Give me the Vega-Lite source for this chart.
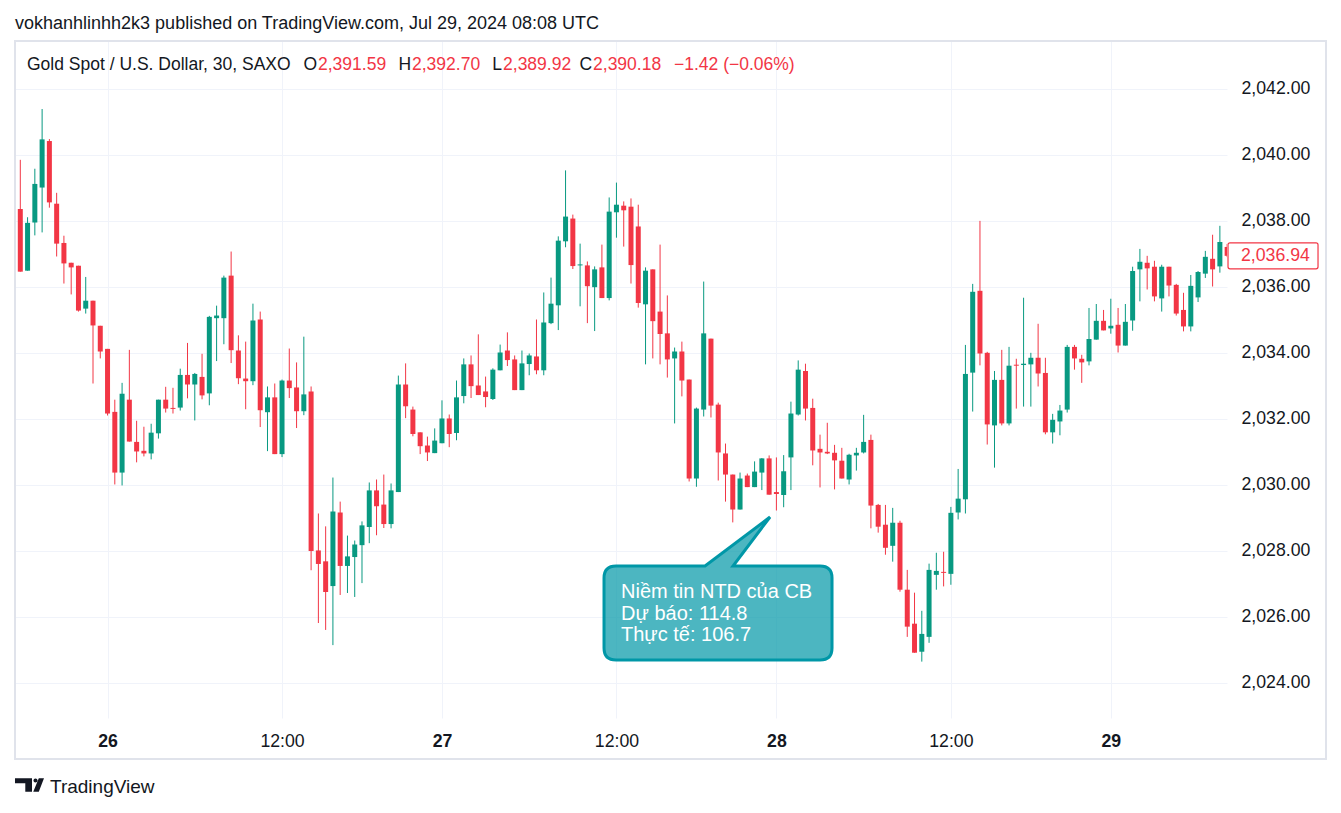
{
"$schema": "https://vega.github.io/schema/vega-lite/v6.json",
"width": 1212, "height": 677,
"autosize": "none",
"padding": {"left": 15, "top": 41, "right": 114, "bottom": 95},
"background": "#ffffff",
"title": {"text": "vokhanhlinhh2k3 published on TradingView.com, Jul 29, 2024 08:08 UTC", "anchor": "start", "frame": "group", "fontSize": 18, "fontWeight": "normal", "font": "Liberation Sans", "color": "#131722", "offset": 7},
"config": {"view": {"stroke": null}, "font": "Liberation Sans"},
"datasets": {
"candles": [
{"i":0,"o":2033.29,"h":2038.39,"l":2033.29,"c":2038.39},
{"i":1,"o":2038.36,"h":2039.85,"l":2036.46,"c":2036.46},
{"i":2,"o":2036.49,"h":2038.11,"l":2036.49,"c":2037.94},
{"i":3,"o":2037.95,"h":2039.58,"l":2037.56,"c":2039.12},
{"i":4,"o":2039.01,"h":2041.39,"l":2037.65,"c":2040.47},
{"i":5,"o":2040.42,"h":2040.48,"l":2038.40,"c":2038.56},
{"i":6,"o":2038.52,"h":2038.85,"l":2036.92,"c":2037.31},
{"i":7,"o":2037.33,"h":2037.55,"l":2036.10,"c":2036.71},
{"i":8,"o":2036.73,"h":2036.73,"l":2035.77,"c":2036.59},
{"i":9,"o":2036.64,"h":2036.64,"l":2035.25,"c":2035.28},
{"i":10,"o":2035.34,"h":2036.30,"l":2035.19,"c":2035.58},
{"i":11,"o":2035.58,"h":2035.58,"l":2033.07,"c":2034.83},
{"i":12,"o":2034.82,"h":2034.82,"l":2033.83,"c":2034.04},
{"i":13,"o":2034.12,"h":2034.12,"l":2032.10,"c":2032.16},
{"i":14,"o":2032.21,"h":2032.58,"l":2030.01,"c":2030.37},
{"i":15,"o":2030.37,"h":2033.09,"l":2029.98,"c":2032.76},
{"i":16,"o":2032.58,"h":2034.09,"l":2031.31,"c":2031.31},
{"i":17,"o":2031.30,"h":2031.94,"l":2030.68,"c":2031.01},
{"i":18,"o":2031.03,"h":2031.76,"l":2030.86,"c":2030.95},
{"i":19,"o":2030.95,"h":2031.85,"l":2030.77,"c":2031.58},
{"i":20,"o":2031.56,"h":2032.58,"l":2031.40,"c":2032.58},
{"i":21,"o":2032.58,"h":2032.97,"l":2032.19,"c":2032.31},
{"i":22,"o":2032.33,"h":2032.94,"l":2032.16,"c":2032.30},
{"i":23,"o":2032.34,"h":2033.52,"l":2032.25,"c":2033.33},
{"i":24,"o":2033.33,"h":2034.30,"l":2032.62,"c":2033.04},
{"i":25,"o":2033.04,"h":2033.39,"l":2031.95,"c":2033.36},
{"i":26,"o":2033.27,"h":2033.97,"l":2032.59,"c":2032.71},
{"i":27,"o":2032.77,"h":2035.12,"l":2032.41,"c":2035.09},
{"i":28,"o":2035.05,"h":2035.43,"l":2033.75,"c":2035.13},
{"i":29,"o":2035.05,"h":2036.34,"l":2034.26,"c":2036.28},
{"i":30,"o":2036.34,"h":2037.07,"l":2033.69,"c":2034.08},
{"i":31,"o":2034.07,"h":2034.53,"l":2033.05,"c":2033.23},
{"i":32,"o":2033.22,"h":2034.34,"l":2032.29,"c":2033.14},
{"i":33,"o":2033.14,"h":2035.49,"l":2033.02,"c":2034.98},
{"i":34,"o":2035.01,"h":2035.25,"l":2031.75,"c":2032.26},
{"i":35,"o":2032.20,"h":2032.98,"l":2031.02,"c":2032.65},
{"i":36,"o":2032.65,"h":2033.07,"l":2030.93,"c":2030.93},
{"i":37,"o":2030.93,"h":2033.19,"l":2030.84,"c":2033.16},
{"i":38,"o":2033.16,"h":2034.13,"l":2032.63,"c":2032.93},
{"i":39,"o":2032.95,"h":2033.71,"l":2031.72,"c":2032.23},
{"i":40,"o":2032.23,"h":2034.49,"l":2032.11,"c":2032.74},
{"i":41,"o":2032.83,"h":2032.98,"l":2027.41,"c":2027.99},
{"i":42,"o":2028.01,"h":2029.13,"l":2025.81,"c":2027.60},
{"i":43,"o":2027.68,"h":2028.74,"l":2025.60,"c":2026.75},
{"i":44,"o":2026.93,"h":2030.22,"l":2025.14,"c":2029.19},
{"i":45,"o":2029.16,"h":2029.49,"l":2026.66,"c":2027.54},
{"i":46,"o":2027.54,"h":2028.46,"l":2026.72,"c":2027.83},
{"i":47,"o":2027.81,"h":2028.31,"l":2026.60,"c":2028.19},
{"i":48,"o":2028.17,"h":2028.89,"l":2027.02,"c":2028.77},
{"i":49,"o":2028.72,"h":2030.07,"l":2028.23,"c":2029.83},
{"i":50,"o":2029.83,"h":2030.16,"l":2028.47,"c":2029.35},
{"i":51,"o":2029.40,"h":2030.31,"l":2028.69,"c":2028.81},
{"i":52,"o":2028.81,"h":2030.04,"l":2028.68,"c":2029.83},
{"i":53,"o":2029.78,"h":2033.31,"l":2029.78,"c":2033.04},
{"i":54,"o":2033.04,"h":2033.68,"l":2032.02,"c":2032.38},
{"i":55,"o":2032.28,"h":2032.37,"l":2031.47,"c":2031.54},
{"i":56,"o":2031.59,"h":2031.59,"l":2030.93,"c":2031.17},
{"i":57,"o":2031.19,"h":2031.46,"l":2030.72,"c":2030.98},
{"i":58,"o":2030.96,"h":2031.71,"l":2030.96,"c":2031.34},
{"i":59,"o":2031.26,"h":2032.56,"l":2031.26,"c":2032.01},
{"i":60,"o":2032.01,"h":2032.13,"l":2031.14,"c":2031.54},
{"i":61,"o":2031.57,"h":2033.16,"l":2031.35,"c":2032.65},
{"i":62,"o":2032.69,"h":2033.83,"l":2032.47,"c":2033.65},
{"i":63,"o":2033.65,"h":2033.92,"l":2032.63,"c":2032.99},
{"i":64,"o":2033.01,"h":2034.56,"l":2032.72,"c":2032.72},
{"i":65,"o":2032.83,"h":2033.28,"l":2032.35,"c":2032.66},
{"i":66,"o":2032.60,"h":2033.53,"l":2032.57,"c":2033.49},
{"i":67,"o":2033.47,"h":2034.25,"l":2033.47,"c":2034.01},
{"i":68,"o":2034.07,"h":2034.62,"l":2033.60,"c":2033.78},
{"i":69,"o":2033.80,"h":2033.92,"l":2032.87,"c":2032.87},
{"i":70,"o":2032.87,"h":2034.07,"l":2032.87,"c":2033.68},
{"i":71,"o":2033.66,"h":2033.98,"l":2033.32,"c":2033.92},
{"i":72,"o":2033.89,"h":2035.01,"l":2033.35,"c":2033.47},
{"i":73,"o":2033.47,"h":2035.83,"l":2033.32,"c":2034.92},
{"i":74,"o":2034.90,"h":2036.28,"l":2034.87,"c":2035.49},
{"i":75,"o":2035.44,"h":2037.53,"l":2034.69,"c":2037.40},
{"i":76,"o":2037.38,"h":2039.53,"l":2037.20,"c":2038.13},
{"i":77,"o":2038.07,"h":2038.19,"l":2036.54,"c":2036.63},
{"i":78,"o":2036.65,"h":2037.31,"l":2035.41,"c":2036.68},
{"i":79,"o":2036.65,"h":2036.77,"l":2034.90,"c":2036.02},
{"i":80,"o":2035.99,"h":2036.62,"l":2034.66,"c":2036.53},
{"i":81,"o":2036.59,"h":2037.28,"l":2035.66,"c":2035.66},
{"i":82,"o":2035.66,"h":2038.71,"l":2035.59,"c":2038.28},
{"i":83,"o":2038.26,"h":2039.16,"l":2037.49,"c":2038.49},
{"i":84,"o":2038.46,"h":2038.59,"l":2037.22,"c":2038.32},
{"i":85,"o":2038.43,"h":2038.68,"l":2036.10,"c":2036.66},
{"i":86,"o":2037.83,"h":2038.49,"l":2035.37,"c":2035.51},
{"i":87,"o":2035.47,"h":2036.59,"l":2033.65,"c":2036.49},
{"i":88,"o":2036.53,"h":2036.53,"l":2033.83,"c":2034.96},
{"i":89,"o":2035.25,"h":2037.28,"l":2033.65,"c":2034.57},
{"i":90,"o":2034.59,"h":2035.74,"l":2033.25,"c":2033.80},
{"i":91,"o":2033.83,"h":2034.16,"l":2031.86,"c":2034.04},
{"i":92,"o":2034.04,"h":2034.34,"l":2032.68,"c":2033.16},
{"i":93,"o":2033.19,"h":2033.19,"l":2030.10,"c":2030.19},
{"i":94,"o":2030.19,"h":2032.34,"l":2029.94,"c":2032.31},
{"i":95,"o":2032.28,"h":2036.16,"l":2032.07,"c":2034.59},
{"i":96,"o":2034.43,"h":2034.43,"l":2032.04,"c":2032.40},
{"i":97,"o":2032.43,"h":2032.49,"l":2030.13,"c":2030.98},
{"i":98,"o":2030.95,"h":2031.25,"l":2029.49,"c":2030.31},
{"i":99,"o":2030.31,"h":2030.31,"l":2028.86,"c":2029.25},
{"i":100,"o":2029.25,"h":2030.37,"l":2029.25,"c":2030.19},
{"i":101,"o":2030.28,"h":2030.34,"l":2029.93,"c":2029.93},
{"i":102,"o":2029.93,"h":2030.71,"l":2029.93,"c":2030.40},
{"i":103,"o":2030.37,"h":2030.81,"l":2029.84,"c":2030.80},
{"i":104,"o":2030.80,"h":2030.89,"l":2029.70,"c":2029.70},
{"i":105,"o":2029.78,"h":2030.83,"l":2029.22,"c":2029.72},
{"i":106,"o":2029.69,"h":2030.90,"l":2029.32,"c":2030.41},
{"i":107,"o":2030.83,"h":2032.52,"l":2029.84,"c":2032.16},
{"i":108,"o":2032.13,"h":2033.77,"l":2032.10,"c":2033.49},
{"i":109,"o":2033.45,"h":2033.67,"l":2031.95,"c":2032.31},
{"i":110,"o":2032.33,"h":2032.61,"l":2030.59,"c":2031.04},
{"i":111,"o":2031.09,"h":2031.52,"l":2029.92,"c":2030.98},
{"i":112,"o":2031.00,"h":2031.88,"l":2030.93,"c":2030.95},
{"i":113,"o":2030.97,"h":2031.21,"l":2029.86,"c":2030.74},
{"i":114,"o":2030.73,"h":2031.12,"l":2030.19,"c":2030.19},
{"i":115,"o":2030.16,"h":2030.94,"l":2030.01,"c":2030.91},
{"i":116,"o":2030.89,"h":2031.12,"l":2030.43,"c":2030.97},
{"i":117,"o":2030.98,"h":2032.12,"l":2030.95,"c":2031.30},
{"i":118,"o":2031.36,"h":2031.52,"l":2028.68,"c":2029.37},
{"i":119,"o":2029.39,"h":2029.42,"l":2028.55,"c":2028.73},
{"i":120,"o":2028.79,"h":2029.39,"l":2027.88,"c":2028.09},
{"i":121,"o":2028.15,"h":2029.30,"l":2027.67,"c":2028.85},
{"i":122,"o":2028.85,"h":2028.91,"l":2026.76,"c":2026.82},
{"i":123,"o":2026.82,"h":2027.42,"l":2025.39,"c":2025.70},
{"i":124,"o":2025.79,"h":2026.73,"l":2024.91,"c":2024.91},
{"i":125,"o":2024.94,"h":2026.18,"l":2024.64,"c":2025.48},
{"i":126,"o":2025.39,"h":2027.61,"l":2025.21,"c":2027.42},
{"i":127,"o":2027.27,"h":2027.94,"l":2026.82,"c":2027.39},
{"i":128,"o":2027.36,"h":2027.97,"l":2026.92,"c":2027.33},
{"i":129,"o":2027.30,"h":2029.33,"l":2026.97,"c":2029.15},
{"i":130,"o":2029.16,"h":2030.48,"l":2028.95,"c":2029.58},
{"i":131,"o":2029.56,"h":2034.24,"l":2029.13,"c":2033.36},
{"i":132,"o":2033.40,"h":2036.09,"l":2032.22,"c":2035.85},
{"i":133,"o":2035.88,"h":2038.00,"l":2033.62,"c":2033.98},
{"i":134,"o":2034.00,"h":2034.03,"l":2031.22,"c":2031.83},
{"i":135,"o":2031.80,"h":2033.45,"l":2030.52,"c":2033.18},
{"i":136,"o":2033.18,"h":2034.09,"l":2031.80,"c":2031.86},
{"i":137,"o":2031.86,"h":2034.18,"l":2031.80,"c":2033.61},
{"i":138,"o":2033.64,"h":2033.82,"l":2032.31,"c":2033.61},
{"i":139,"o":2033.63,"h":2035.67,"l":2032.37,"c":2033.67},
{"i":140,"o":2033.65,"h":2034.00,"l":2032.37,"c":2033.85},
{"i":141,"o":2033.85,"h":2034.88,"l":2032.98,"c":2033.37},
{"i":142,"o":2033.39,"h":2033.85,"l":2031.53,"c":2031.59},
{"i":143,"o":2031.59,"h":2032.15,"l":2031.25,"c":2031.97},
{"i":144,"o":2031.92,"h":2032.42,"l":2031.50,"c":2032.25},
{"i":145,"o":2032.28,"h":2034.24,"l":2032.19,"c":2034.18},
{"i":146,"o":2034.18,"h":2034.24,"l":2033.49,"c":2033.83},
{"i":147,"o":2033.82,"h":2033.94,"l":2033.09,"c":2033.71},
{"i":148,"o":2033.74,"h":2035.36,"l":2033.62,"c":2034.42},
{"i":149,"o":2034.40,"h":2035.48,"l":2034.40,"c":2034.97},
{"i":150,"o":2034.97,"h":2035.30,"l":2034.68,"c":2034.68},
{"i":151,"o":2034.74,"h":2035.64,"l":2034.58,"c":2034.82},
{"i":152,"o":2034.85,"h":2035.36,"l":2034.01,"c":2034.22},
{"i":153,"o":2034.22,"h":2035.48,"l":2034.22,"c":2034.94},
{"i":154,"o":2034.98,"h":2036.61,"l":2034.67,"c":2036.48},
{"i":155,"o":2036.53,"h":2037.15,"l":2035.56,"c":2036.76},
{"i":156,"o":2036.73,"h":2036.94,"l":2035.92,"c":2036.56},
{"i":157,"o":2036.61,"h":2036.79,"l":2035.56,"c":2035.71},
{"i":158,"o":2035.65,"h":2036.67,"l":2035.25,"c":2036.61},
{"i":159,"o":2036.61,"h":2036.61,"l":2035.71,"c":2036.04},
{"i":160,"o":2036.06,"h":2036.09,"l":2035.13,"c":2035.19},
{"i":161,"o":2035.30,"h":2035.82,"l":2034.65,"c":2034.80},
{"i":162,"o":2034.80,"h":2036.36,"l":2034.65,"c":2036.03},
{"i":163,"o":2035.68,"h":2036.48,"l":2035.54,"c":2036.45},
{"i":164,"o":2036.40,"h":2037.09,"l":2036.27,"c":2036.91},
{"i":165,"o":2036.85,"h":2037.58,"l":2036.01,"c":2036.53},
{"i":166,"o":2036.62,"h":2037.85,"l":2036.43,"c":2037.36},
{"i":167,"o":2037.21,"h":2037.30,"l":2036.90,"c":2036.94}
],
"info": [{"symbol":"Gold Spot / U.S. Dollar, 30, SAXO","open":2391.59,"high":2392.70,"low":2389.92,"close":2390.18,"change":"−1.42 (−0.06%)","last":2036.94}],
"events": [{"event":"Niềm tin NTD của CB","forecast":114.8,"actual":106.7}]
},
"layer": [
{"data": {"name": "candles"}, "mark": {"type": "rule", "strokeWidth": 1, "clip": true},
 "encoding": {
  "x": {"field": "i", "type": "quantitative", "scale": {"domain": [0.271, 166.98], "nice": false, "zero": false, "padding": 0},
        "axis": {"orient": "bottom", "values": [13,37,59,83,105,129,151], "labelExpr": "datum.value == 13 ? '26' : datum.value == 59 ? '27' : datum.value == 105 ? '28' : datum.value == 151 ? '29' : '12:00'", "domain": false, "ticks": false, "grid": true, "gridColor": "#f0f3fa", "gridWidth": 1, "labelPadding": 14, "labelFontSize": 17.7, "labelFont": "Liberation Sans", "labelColor": "#131722", "labelFontWeight": {"condition": {"test": "datum.value == 13 || datum.value == 59 || datum.value == 105 || datum.value == 151", "value": "bold"}, "value": "normal"}, "labelOverlap": false, "labelFlush": false, "title": null}},
  "y": {"field": "l", "type": "quantitative", "scale": {"domain": [2022.931, 2043.452], "nice": false, "zero": false},
        "axis": {"orient": "right", "values": [2024,2026,2028,2030,2032,2034,2036,2038,2040,2042], "format": ",.2f", "domain": false, "ticks": false, "grid": true, "gridColor": "#f0f3fa", "gridWidth": 1, "labelAlign": "left", "labelBaseline": "middle", "labelPadding": 14, "labelFontSize": 17.7, "labelFont": "Liberation Sans", "labelColor": "#131722", "labelOverlap": false, "labelFlush": false, "title": null}},
  "y2": {"field": "h"},
  "color": {"condition": {"test": "datum.c >= datum.o", "value": "#089981"}, "value": "#f23645"}
 }},
{"data": {"name": "candles"}, "mark": {"type": "bar", "width": 5, "clip": true},
 "encoding": {
  "x": {"field": "i", "type": "quantitative", "scale": {"domain": [0.271, 166.98], "nice": false, "zero": false, "padding": 0}},
  "y": {"field": "o", "type": "quantitative", "scale": {"domain": [2022.931, 2043.452], "nice": false, "zero": false}},
  "y2": {"field": "c"},
  "color": {"condition": {"test": "datum.c >= datum.o", "value": "#089981"}, "value": "#f23645"}
 }},
{"data": {"name": "info"}, "mark": {"type": "rect", "fill": "#ffffff", "fillOpacity": 0, "stroke": "#e0e3eb", "strokeWidth": 2},
 "encoding": {
  "x": {"datum": 0.271, "type": "quantitative", "scale": {"domain": [0.271, 166.98], "nice": false, "zero": false, "padding": 0}},
  "x2": {"datum": 180.6},
  "y": {"datum": 2043.452, "type": "quantitative", "scale": {"domain": [2022.931, 2043.452], "nice": false, "zero": false}},
  "y2": {"datum": 2021.688}
 }},
{"data": {"name": "info"}, "mark": {"type": "rect", "fill": "#ffffff", "stroke": "#f23645", "strokeWidth": 1.2, "cornerRadius": 2, "yOffset": -13, "y2Offset": 13},
 "encoding": {
  "x": {"datum": 167.12, "type": "quantitative", "scale": {"domain": [0.271, 166.98], "nice": false, "zero": false, "padding": 0}},
  "x2": {"datum": 179.5},
  "y": {"field": "last", "type": "quantitative", "scale": {"domain": [2022.931, 2043.452], "nice": false, "zero": false}},
  "y2": {"field": "last"}
 }},
{"data": {"name": "info"}, "mark": {"type": "text", "align": "left", "baseline": "middle", "fontSize": 17.7, "font": "Liberation Sans", "color": "#f23645"},
 "encoding": {
  "x": {"datum": 168.9, "type": "quantitative", "scale": {"domain": [0.271, 166.98], "nice": false, "zero": false, "padding": 0}},
  "y": {"field": "last", "type": "quantitative", "scale": {"domain": [2022.931, 2043.452], "nice": false, "zero": false}},
  "text": {"field": "last", "type": "quantitative", "format": ",.2f"}
 }},
{"data": {"name": "info"}, "mark": {"type": "text", "align": "left", "baseline": "middle", "fontSize": 17.5, "font": "Liberation Sans", "color": "#131722"},
 "encoding": {
  "x": {"datum": 1.922, "type": "quantitative", "scale": {"domain": [0.271, 166.98], "nice": false, "zero": false, "padding": 0}},
  "y": {"datum": 2042.72, "type": "quantitative", "scale": {"domain": [2022.931, 2043.452], "nice": false, "zero": false}},
  "text": {"field": "symbol"}
 }},
{"data": {"name": "info"}, "mark": {"type": "text", "align": "right", "dx": -1, "baseline": "middle", "fontSize": 17.5, "font": "Liberation Sans", "color": "#131722", "text": "O"},
 "encoding": {
  "x": {"datum": 41.95, "type": "quantitative", "scale": {"domain": [0.271, 166.98], "nice": false, "zero": false, "padding": 0}},
  "y": {"datum": 2042.72, "type": "quantitative", "scale": {"domain": [2022.931, 2043.452], "nice": false, "zero": false}}
 }},
{"data": {"name": "info"}, "mark": {"type": "text", "align": "left", "baseline": "middle", "fontSize": 17.5, "font": "Liberation Sans", "color": "#f23645"},
 "encoding": {
  "x": {"datum": 41.95, "type": "quantitative", "scale": {"domain": [0.271, 166.98], "nice": false, "zero": false, "padding": 0}},
  "y": {"datum": 2042.72, "type": "quantitative", "scale": {"domain": [2022.931, 2043.452], "nice": false, "zero": false}},
  "text": {"field": "open", "type": "quantitative", "format": ",.2f"}
 }},
{"data": {"name": "info"}, "mark": {"type": "text", "align": "right", "dx": -1, "baseline": "middle", "fontSize": 17.5, "font": "Liberation Sans", "color": "#131722", "text": "H"},
 "encoding": {
  "x": {"datum": 54.88, "type": "quantitative", "scale": {"domain": [0.271, 166.98], "nice": false, "zero": false, "padding": 0}},
  "y": {"datum": 2042.72, "type": "quantitative", "scale": {"domain": [2022.931, 2043.452], "nice": false, "zero": false}}
 }},
{"data": {"name": "info"}, "mark": {"type": "text", "align": "left", "baseline": "middle", "fontSize": 17.5, "font": "Liberation Sans", "color": "#f23645"},
 "encoding": {
  "x": {"datum": 54.88, "type": "quantitative", "scale": {"domain": [0.271, 166.98], "nice": false, "zero": false, "padding": 0}},
  "y": {"datum": 2042.72, "type": "quantitative", "scale": {"domain": [2022.931, 2043.452], "nice": false, "zero": false}},
  "text": {"field": "high", "type": "quantitative", "format": ",.2f"}
 }},
{"data": {"name": "info"}, "mark": {"type": "text", "align": "right", "dx": -1, "baseline": "middle", "fontSize": 17.5, "font": "Liberation Sans", "color": "#131722", "text": "L"},
 "encoding": {
  "x": {"datum": 67.40, "type": "quantitative", "scale": {"domain": [0.271, 166.98], "nice": false, "zero": false, "padding": 0}},
  "y": {"datum": 2042.72, "type": "quantitative", "scale": {"domain": [2022.931, 2043.452], "nice": false, "zero": false}}
 }},
{"data": {"name": "info"}, "mark": {"type": "text", "align": "left", "baseline": "middle", "fontSize": 17.5, "font": "Liberation Sans", "color": "#f23645"},
 "encoding": {
  "x": {"datum": 67.40, "type": "quantitative", "scale": {"domain": [0.271, 166.98], "nice": false, "zero": false, "padding": 0}},
  "y": {"datum": 2042.72, "type": "quantitative", "scale": {"domain": [2022.931, 2043.452], "nice": false, "zero": false}},
  "text": {"field": "low", "type": "quantitative", "format": ",.2f"}
 }},
{"data": {"name": "info"}, "mark": {"type": "text", "align": "right", "dx": -1, "baseline": "middle", "fontSize": 17.5, "font": "Liberation Sans", "color": "#131722", "text": "C"},
 "encoding": {
  "x": {"datum": 79.78, "type": "quantitative", "scale": {"domain": [0.271, 166.98], "nice": false, "zero": false, "padding": 0}},
  "y": {"datum": 2042.72, "type": "quantitative", "scale": {"domain": [2022.931, 2043.452], "nice": false, "zero": false}}
 }},
{"data": {"name": "info"}, "mark": {"type": "text", "align": "left", "baseline": "middle", "fontSize": 17.5, "font": "Liberation Sans", "color": "#f23645"},
 "encoding": {
  "x": {"datum": 79.78, "type": "quantitative", "scale": {"domain": [0.271, 166.98], "nice": false, "zero": false, "padding": 0}},
  "y": {"datum": 2042.72, "type": "quantitative", "scale": {"domain": [2022.931, 2043.452], "nice": false, "zero": false}},
  "text": {"field": "close", "type": "quantitative", "format": ",.2f"}
 }},
{"data": {"name": "info"}, "mark": {"type": "text", "align": "left", "baseline": "middle", "fontSize": 17.5, "font": "Liberation Sans", "color": "#f23645"},
 "encoding": {
  "x": {"datum": 90.92, "type": "quantitative", "scale": {"domain": [0.271, 166.98], "nice": false, "zero": false, "padding": 0}},
  "y": {"datum": 2042.72, "type": "quantitative", "scale": {"domain": [2022.931, 2043.452], "nice": false, "zero": false}},
  "text": {"field": "change"}
 }},
{"data": {"name": "events"}, "mark": {"type": "point", "shape": "M -0.85,-0.1875 L -0.1083,-0.1875 L 0.4333,-0.5958 L 0.125,-0.1875 L 0.85,-0.1875 Q 0.95,-0.1875 0.95,-0.0875 L 0.95,0.4958 Q 0.95,0.5958 0.85,0.5958 L -0.85,0.5958 Q -0.95,0.5958 -0.95,0.4958 L -0.95,-0.0875 Q -0.95,-0.1875 -0.85,-0.1875 Z", "size": 57600, "filled": true, "fill": "#0097a7", "fillOpacity": 0.7, "stroke": "#0097a7", "strokeWidth": 3, "opacity": 1},
 "encoding": {
  "x": {"datum": 96.97, "type": "quantitative", "scale": {"domain": [0.271, 166.98], "nice": false, "zero": false, "padding": 0}},
  "y": {"datum": 2026.856, "type": "quantitative", "scale": {"domain": [2022.931, 2043.452], "nice": false, "zero": false}}
 }},
{"data": {"name": "events"}, "mark": {"type": "text", "align": "left", "baseline": "alphabetic", "fontSize": 20, "font": "Liberation Sans", "color": "#ffffff", "lineHeight": 21.5},
 "encoding": {
  "x": {"datum": 83.63, "type": "quantitative", "scale": {"domain": [0.271, 166.98], "nice": false, "zero": false, "padding": 0}},
  "y": {"datum": 2026.568, "type": "quantitative", "scale": {"domain": [2022.931, 2043.452], "nice": false, "zero": false}},
  "text": {"value": ["Niềm tin NTD của CB", "Dự báo: 114.8", "Thực tế: 106.7"]}
 }},
{"data": {"name": "events"}, "mark": {"type": "point", "shape": "M -0.967,-0.447 L 0.167,-0.447 L 0.167,0.447 L -0.28,0.447 L -0.28,-0.113 L -0.967,-0.113 Z M 0.40,-0.44 L 0.50,-0.40 L 0.54,-0.30 L 0.50,-0.20 L 0.40,-0.16 L 0.30,-0.20 L 0.26,-0.30 L 0.30,-0.40 Z M 0.62,-0.447 L 0.967,-0.447 L 0.62,0.447 L 0.25,0.447 Z", "size": 900, "filled": true, "fill": "#131722", "opacity": 1, "strokeWidth": 0},
 "encoding": {
  "x": {"datum": 2.265, "type": "quantitative", "scale": {"domain": [0.271, 166.98], "nice": false, "zero": false, "padding": 0}},
  "y": {"datum": 2020.90, "type": "quantitative", "scale": {"domain": [2022.931, 2043.452], "nice": false, "zero": false}}
 }},
{"data": {"name": "events"}, "mark": {"type": "text", "align": "left", "baseline": "middle", "fontSize": 19, "font": "Liberation Sans", "color": "#131722", "text": "TradingView"},
 "encoding": {
  "x": {"datum": 5.085, "type": "quantitative", "scale": {"domain": [0.271, 166.98], "nice": false, "zero": false, "padding": 0}},
  "y": {"datum": 2020.839, "type": "quantitative", "scale": {"domain": [2022.931, 2043.452], "nice": false, "zero": false}}
 }}
]
}
